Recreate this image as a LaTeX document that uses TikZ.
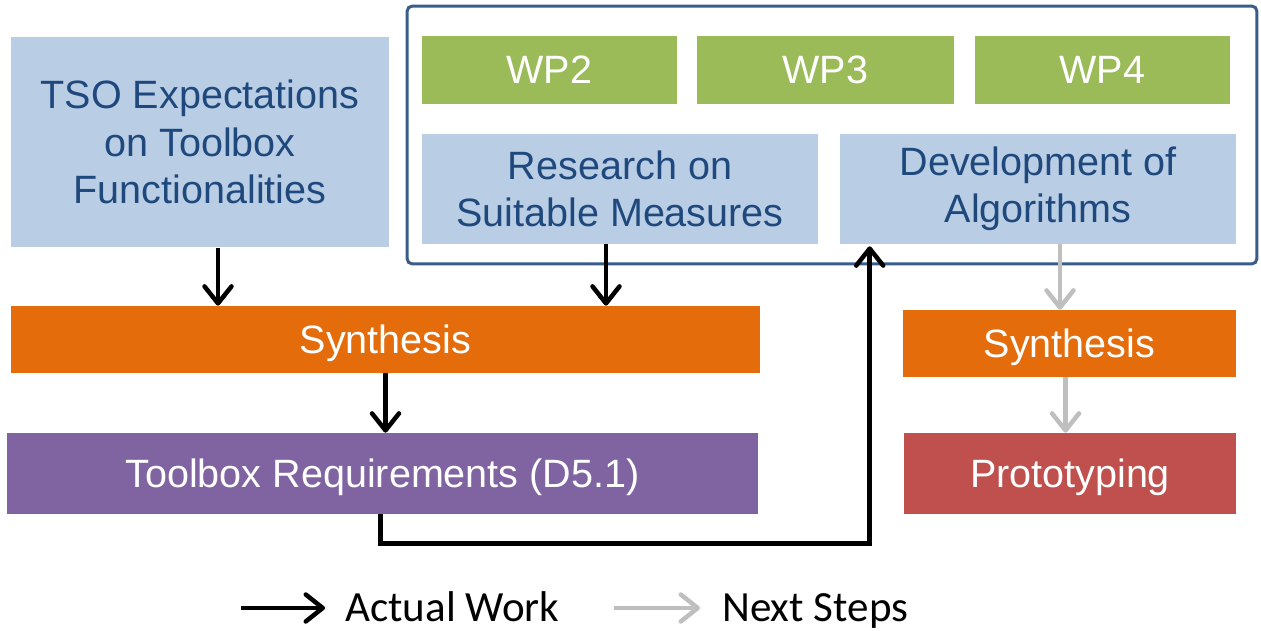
\documentclass[tikz,border=0pt]{standalone}
\usepackage{fontspec}
\setmainfont{Liberation Sans}
\newfontfamily\legendfont{Carlito}
\usetikzlibrary{arrows.meta,positioning,calc}

\definecolor{boxblue}{HTML}{B9CDE5}
\definecolor{textblue}{HTML}{1F497D}
\definecolor{wpgreen}{HTML}{9BBB59}
\definecolor{synorange}{HTML}{E46C0A}
\definecolor{reqpurple}{HTML}{8064A2}
\definecolor{protored}{HTML}{C0504D}
\definecolor{frameblue}{HTML}{385D8A}
\definecolor{nextgray}{HTML}{BFBFBF}

\begin{document}
\begin{tikzpicture}[x=0.02cm,y=-0.02cm,
  font=\fontsize{22.5}{27}\selectfont,
  block/.style={inner sep=0pt,align=center},
  single/.style={block,text depth=0pt},
  blue block/.style={block,fill=boxblue,text=textblue},
  wp/.style={single,fill=wpgreen,text=white,minimum height=1.36cm},
  legend/.style={inner sep=0pt,anchor=base west,font=\legendfont\fontsize{24.5}{29}\selectfont},
  actual/.style={line width=0.09cm,black,-{Straight Barb[length=0.34cm,width=0.54cm,round]}},
  next/.style={actual,draw=nextgray}]
  \useasboundingbox (0,0) rectangle (1261,631);

  % project boxes
  \node[blue block,minimum width=7.56cm,minimum height=4.22cm] (tso) at (200,142)
    {TSO Expectations\\on Toolbox\\Functionalities};
  \node[block,draw=frameblue,line width=0.06cm,rounded corners=3pt,
    minimum width=17cm,minimum height=5.16cm] (frame) at (832,135) {};
  \node[wp,minimum width=5.1cm] (wp2) at (549.5,70) {WP2};
  \node[wp,minimum width=5.14cm] (wp3) at (825.5,70) {WP3};
  \node[wp,minimum width=5.1cm] (wp4) at (1102.5,70) {WP4};
  \node[blue block,minimum width=7.92cm,minimum height=2.2cm] (research) at (620,189)
    {Research on\\Suitable Measures};
  \node[blue block,minimum width=7.92cm,minimum height=2.2cm] (dev) at (1038,189)
    {Development of\\Algorithms};

  \node[single,fill=synorange,text=white,minimum width=14.98cm,minimum height=1.34cm] (synl) at (385.5,339.5) {Synthesis};
  \node[single,fill=reqpurple,text=white,minimum width=15.02cm,minimum height=1.62cm] (req) at (382.5,473.5) {Toolbox Requirements (D5.1)};
  \node[single,fill=synorange,text=white,minimum width=6.66cm,minimum height=1.34cm] (synr) at (1069.5,343.5) {Synthesis};
  \node[single,fill=protored,text=white,minimum width=6.64cm,minimum height=1.62cm] (proto) at (1070,473.5) {Prototyping};

  % actual work
  \draw[actual] (tso.south) ++(18,0) coordinate (a1) -- (a1 |- synl.north);
  \draw[actual] (research.south) ++(-14,0) coordinate (a2) -- (a2 |- synl.north);
  \draw[actual] (synl.south) -- (synl.south |- req.north);
  \coordinate (up) at ($(dev.south west)+(30,2)$);
  \draw[actual] (req.south) ++(-2,0) -- ++(0,29) -| (up);

  % next steps
  \draw[next] (dev.south) ++(22,0) coordinate (n1) -- (n1 |- synr.north);
  \draw[next] (synr.south) ++(-4,0) coordinate (n2) -- (n2 |- proto.north);

  % legend
  \node[legend] (lgact) at (345,621) {Actual Work};
  \node[legend] (lgnext) at (722,621) {Next Steps};
  \coordinate (la) at (241,608);
  \coordinate (ln) at (614,608);
  \draw[actual] (la) -- (la -| {$(lgact.west)+(-20,0)$});
  \draw[next] (ln) -- (ln -| {$(lgnext.west)+(-22,0)$});
\end{tikzpicture}
\end{document}
